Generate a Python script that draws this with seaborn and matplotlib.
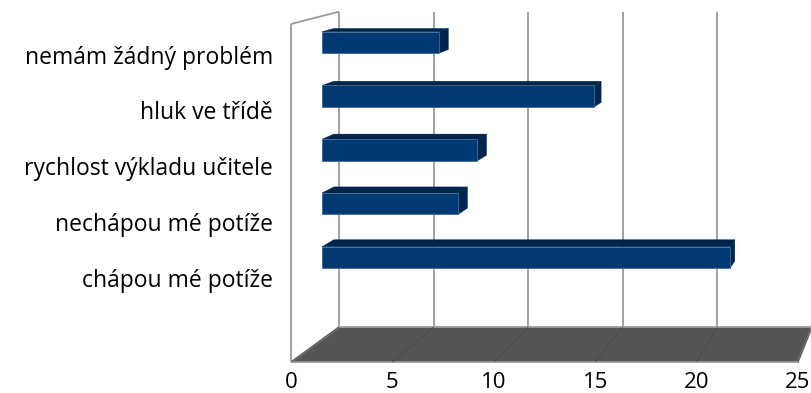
import matplotlib
matplotlib.use("Agg")
import matplotlib.pyplot as plt
from matplotlib.patches import Polygon
import seaborn as sns

categories = ["nemám žádný problém", "hluk ve třídě", "rychlost výkladu učitele",
              "nechápou mé potíže", "chápou mé potíže"]
values = [6, 14, 8, 7, 21]
tick_values = [0, 5, 10, 15, 20, 25]

W, H = 812, 393
BAR_X0, BAR_SCALE = 322, 19.43          # pixel position of value 0, pixels per unit
BAR_Y0, BAR_STEP = 42.5, 53.75          # pixel centre of first bar, pixels per row
FRONT_X0, FRONT_SCALE = 291, 20.28      # front edge of the floor
FLOOR_Y, TOP_Y = 362, 24                # front floor level, top of the side wall
VANISH = (1007, -160)                   # vanishing point of the receding edges
K_BOX, K_BAR = 0.067, 0.0172            # depth of the box and of each bar


def dx(px):
    return (px - BAR_X0) / BAR_SCALE


def dy(py):
    return (py - BAR_Y0) / BAR_STEP


def recede(pt, k):
    """Move a pixel point towards the vanishing point, returned in pixels."""
    return (pt[0] + k * (VANISH[0] - pt[0]), pt[1] + k * (VANISH[1] - pt[1]))


def poly(ax, pts, **kw):
    ax.add_patch(Polygon([(dx(x), dy(y)) for x, y in pts], closed=True, **kw))


def line(ax, a, b, **kw):
    ax.plot([dx(a[0]), dx(b[0])], [dy(a[1]), dy(b[1])], solid_capstyle="butt", **kw)


sns.set_theme(style="white")
plt.rcParams["font.family"] = ["Open Sans", "DejaVu Sans"]

fig = plt.figure(figsize=(W / 100, H / 100), dpi=100, facecolor="white")
ax = fig.add_axes([0, 0, 1, 1])

GRID = "#9a9a9a"
front_x = [FRONT_X0 + FRONT_SCALE * v for v in tick_values]

# floor, side wall and gridlines
fl = (front_x[0], FLOOR_Y)
fr = (front_x[-1], FLOOR_Y)
bl = recede(fl, K_BOX)
br = recede(fr, K_BOX)
poly(ax, [fl, fr, br, bl], facecolor="#555555", edgecolor=GRID, linewidth=1.3, zorder=1)
for x in front_x:
    f = (x, FLOOR_Y)
    b = recede(f, K_BOX)
    t = recede((x, TOP_Y), K_BOX)
    line(ax, f, b, color="#4a4a4a", linewidth=0.6, zorder=1.5)
    line(ax, b, t, color=GRID, linewidth=1.3, zorder=1.5)
line(ax, fl, (front_x[0], TOP_Y), color=GRID, linewidth=1.3, zorder=1.5)
line(ax, (front_x[0], TOP_Y), recede((front_x[0], TOP_Y), K_BOX),
     color=GRID, linewidth=1.3, zorder=1.5)

# front faces of the bars
sns.barplot(x=values, y=categories, order=categories, orient="h", color="#003a75",
            saturation=1, width=0.4, edgecolor="#3f6a96", linewidth=0.6,
            ax=ax, zorder=3)

# top and end faces of the bars
for i, v in enumerate(values):
    xl, xr = BAR_X0, BAR_X0 + BAR_SCALE * v
    yc = BAR_Y0 + BAR_STEP * i
    yt, yb = yc - 10.75, yc + 10.75
    poly(ax, [(xl, yt), (xr, yt), recede((xr, yt), K_BAR), recede((xl, yt), K_BAR)],
         facecolor="#00234a", edgecolor="#00234a", linewidth=0.3, zorder=2.5)
    poly(ax, [(xr, yt), recede((xr, yt), K_BAR), recede((xr, yb), K_BAR), (xr, yb)],
         facecolor="#00264f", edgecolor="#00264f", linewidth=0.3, zorder=2.5)

ax.set_xlim(dx(0), dx(W))
ax.set_ylim(dy(H), dy(0))
ax.set_xlabel("")
ax.set_ylabel("")
sns.despine(ax=ax, left=True, bottom=True)

# value labels along the front edge, category labels on the left
ax.set_xticks([dx(x) for x in front_x], [str(v) for v in tick_values])
ax.tick_params(axis="x", length=0, pad=-(393 - 372) * 0.72, labelsize=16, labelcolor="black")
label_y = [55, 110, 166, 222, 278]
ax.set_yticks([dy(y) for y in label_y], categories)
ax.tick_params(axis="y", length=0, pad=-273 * 0.72, labelsize=16.5, labelcolor="black")
ax.grid(False)

fig.savefig("out.png", dpi=100, facecolor="white")
